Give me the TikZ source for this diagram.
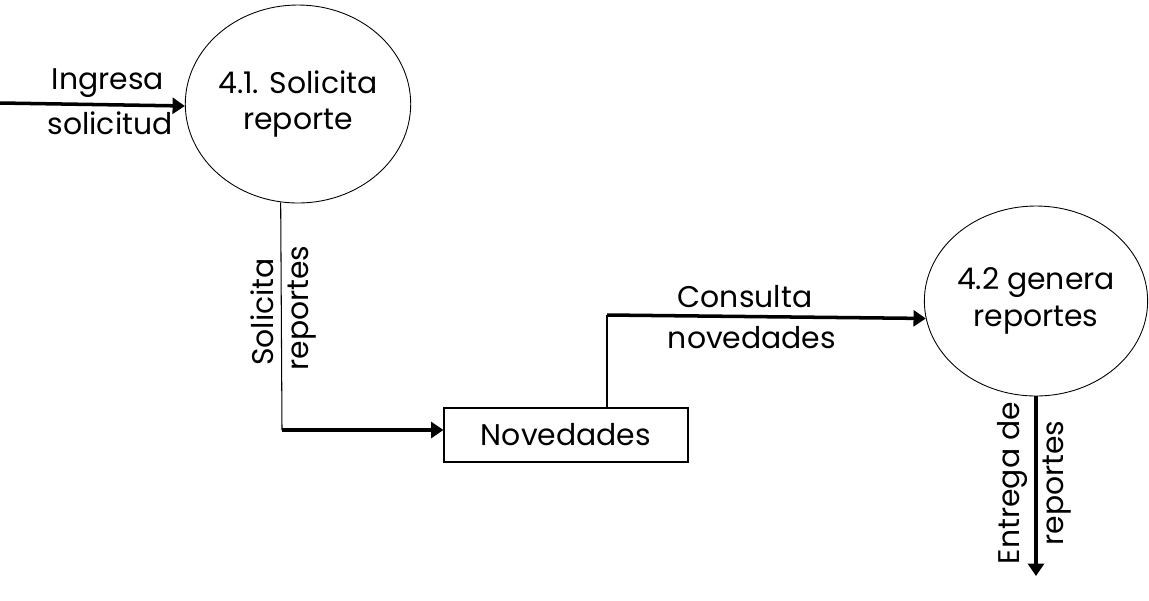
\documentclass[tikz,border=0pt]{standalone}
\usepackage{fontspec}
\setmainfont{Poppins}
\usetikzlibrary{arrows.meta,shapes.geometric}

\tikzset{
  texto/.style={font=\fontsize{17}{21}\selectfont,align=center,inner sep=0pt},
  proceso/.style={texto,draw,ellipse,line width=0.5pt},
  almacen/.style={texto,draw,rectangle,line width=0.6pt},
  flujo/.style={line width=2pt,-{Triangle[length=7pt,width=9pt]}},
  enlace/.style={line width=0.6pt}
}

\begin{document}
\begin{tikzpicture}[x=0.02cm,y=-0.02cm]
  \useasboundingbox (0,0) rectangle (1149,600);
  % procesos y almacen
  \node[proceso,minimum width=224*0.02cm,minimum height=198*0.02cm] (sol) at (298,104) {4.1. Solicita\\reporte};
  \node[proceso,minimum width=222*0.02cm,minimum height=190*0.02cm] (gen) at (1036,301) {4.2 genera\\reportes};
  \node[almacen,minimum width=244*0.02cm,minimum height=54*0.02cm] (nov) at (566,435) {Novedades};
  % puntos de quiebre
  \coordinate (entrada) at (0,103);
  \coordinate (esq1) at (282,430);
  \coordinate (esq2) at (607,315);
  \coordinate (salida) at (1036,576);
  % flujos
  \draw[flujo] (entrada) -- (sol.181);
  \draw[enlace] (sol.260) -- (esq1);
  \draw[flujo] (esq1) -- (esq1 -| nov.west);
  \draw[enlace] (nov.north -| esq2) -- (esq2);
  \draw[flujo] (esq2) -- (gen.189);
  \draw[flujo] (gen.south) -- (salida);
  % etiquetas
  \node[texto] (lIngresa) at (108,83) {Ingresa};
  \node[texto] (lSolicitud) at (110,123) {solicitud};
  \node[texto,rotate=90] (lSolicita) at (262,312) {Solicita};
  \node[texto,rotate=90] (lReportes) at (302,308) {reportes};
  \node[texto] (lConsulta) at (745,297) {Consulta};
  \node[texto] (lNovedades) at (752,338) {novedades};
  \node[texto,rotate=90] (lEntrega) at (1012,483) {Entrega de};
  \node[texto,rotate=90] (lReportes2) at (1057,483) {reportes};
\end{tikzpicture}
\end{document}
